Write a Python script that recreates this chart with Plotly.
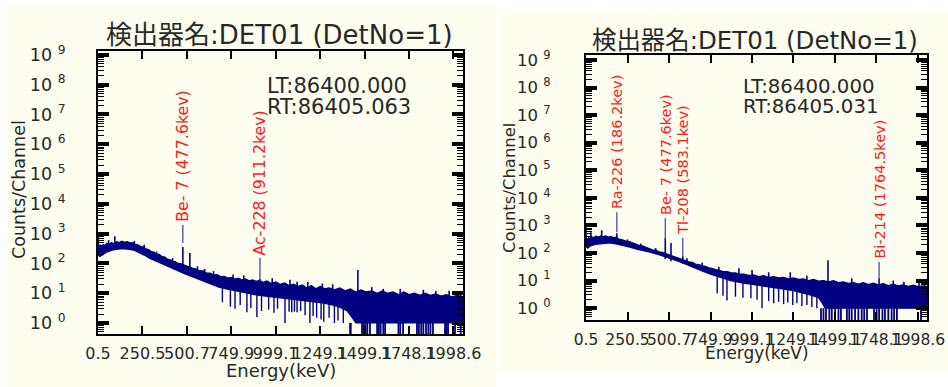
import math
import plotly.graph_objects as go

# ---------------- data ----------------
x_tick_labels = ["0.5", "250.5", "500.7", "749.9", "999.1", "1249.1", "1499.1", "1748.1", "1998.6"]
y_tick_exponents = [0, 1, 2, 3, 4, 5, 6, 7, 8, 9]

# Left spectrum (LT 86400 / RT 86405.063)
left_top_E = [0.5, 5, 12, 20, 30, 40, 50, 60, 75, 90, 105, 120, 135, 150, 165, 180, 195, 210, 225, 240,
              255, 270, 285, 300, 315, 330, 345, 360, 375, 390, 405, 420, 435, 450, 465, 490, 510, 530,
              550, 570, 590, 610, 630, 650, 670, 690, 710, 730, 750, 770, 790, 810, 830, 850, 870, 890,
              910, 930, 950, 975, 1000, 1025, 1050, 1075, 1100, 1125, 1150, 1175, 1200, 1225, 1250,
              1275, 1300, 1330, 1360, 1390, 1420, 1450, 1480, 1510, 1540, 1570, 1600, 1630, 1660, 1690,
              1720, 1750, 1780, 1810, 1840, 1870, 1900, 1930, 1960, 1990, 2020, 2053]
left_top_C = [600, 330, 420, 360, 430, 400, 470, 430, 500, 460, 540, 500, 560, 510, 540, 490, 500, 440,
              420, 370, 360, 310, 290, 250, 240, 205, 200, 170, 165, 140, 135, 118, 115, 100, 98, 85, 78,
              70, 66, 57, 56, 48, 47, 41, 42, 36, 37, 32, 34, 30, 32, 28, 30, 26, 28, 25, 27, 23, 26, 21,
              24, 20, 22, 18, 20, 17, 19, 15, 18, 14, 17, 14, 15, 13, 15, 12, 14, 11, 13, 11, 12, 10, 12,
              10, 11, 9, 11, 9, 10, 8.5, 10, 8.5, 9.5, 8, 9, 7.5, 8.5, 7.5]
left_low_E = [0.5, 10, 25, 40, 60, 80, 110, 140, 170, 200, 230, 260, 290, 320, 350, 380, 410, 440, 470,
              500, 530, 560, 590, 620, 650, 680, 710, 740, 770, 800, 840, 880, 920, 960, 1000, 1050,
              1100, 1150, 1200, 1250, 1300, 1350, 1400, 1430, 1450, 2053]
left_low_C = [200, 170, 190, 224, 250, 280, 300, 310, 300, 280, 230, 190, 150, 125, 100, 85, 72, 60, 50,
              42, 36, 31, 26, 22, 19, 16, 14.5, 13, 12, 11, 10, 9, 8.2, 7.5, 7, 6.5, 6, 5.6, 5.2, 4.8,
              4.3, 3.6, 2.6, 1.5, 1, 1]
left_spike_E = [0.5, 2.5, 60, 95, 140, 205, 260, 330, 420, 477.6, 517, 560, 600, 650, 760, 820, 911.2,
                980, 1080, 1120, 1180, 1262, 1320, 1462, 1540, 1605, 1700, 1830, 1900, 1975, 2040]
left_spike_top = [1000, 850, 600, 820, 560, 560, 420, 250, 150, 355, 224, 80, 65, 55, 42, 40, 30,
                  32, 28, 24, 24, 21, 20, 60, 16, 14, 14, 13, 12, 12, 11]
left_spike_base = [250, 250, 300, 300, 320, 300, 300, 150, 90, 55, 45, 35, 30, 25, 20, 15, 10,
                   12, 10, 7, 8, 6, 6, 2, 5, 1, 5, 1, 4, 1, 4]
left_dip_E = [700, 745, 771, 800, 838, 860, 894, 920, 960, 990, 1010, 1052, 1075, 1090, 1105, 1120,
              1140, 1165, 1192, 1210, 1230, 1255, 1270, 1300, 1330, 1350, 1380]
left_dip_C = [5, 3.5, 3, 4, 2.3, 3.2, 1.6, 2.5, 2.8, 2.2, 3, 1.0, 2.4, 2.3, 2.4, 2.3, 2.5, 1.8, 1.0,
              1.7, 1.5, 1.3, 1.1, 1.5, 1.0, 1.2, 1.0]
left_dip_from = [17, 14, 13, 12, 11, 10, 10, 9, 8, 8, 7.5, 7, 7, 6.5, 6.5, 6.5, 6, 6, 5.5, 5.5, 5, 5,
                 5, 4.8, 4.5, 4.3, 4]
left_zero_E = [1418, 1422, 1485, 1495, 1505, 1515, 1530, 1570, 1580, 1590, 1605, 1615, 1690, 1700, 1716,
               1794, 1805, 1818, 1830, 1845, 1858, 1870, 1884, 1952, 1960, 1969, 2008, 2040]

# Right spectrum (LT 86400 / RT 86405.031)
right_top_E = [0.5, 8, 16, 25, 35, 45, 60, 75, 90, 105, 120, 135, 150, 165, 180, 200, 220, 240, 260,
               280, 300, 320, 340, 360, 380, 400, 420, 440, 460, 480, 500, 520, 540, 560, 580, 600,
               620, 640, 660, 680, 700, 720, 740, 760, 780, 800, 825, 850, 875, 900, 925, 950, 980,
               1010, 1040, 1070, 1100, 1130, 1160, 1190, 1220, 1250, 1280, 1310, 1340, 1370, 1400,
               1430, 1460, 1490, 1520, 1550, 1580, 1610, 1640, 1670, 1700, 1730, 1760, 1790, 1820,
               1850, 1880, 1910, 1940, 1970, 2000, 2030, 2053]
right_top_C = [380, 300, 360, 330, 390, 360, 410, 380, 420, 390, 420, 380, 400, 360, 370, 320, 300, 270,
               260, 230, 215, 190, 180, 160, 150, 130, 125, 110, 105, 95, 88, 80, 74, 66, 60, 55, 48, 46,
               40, 38, 34, 33, 29, 28, 25, 24, 21, 21, 19, 19, 17, 17, 15.5, 16, 14, 15, 13, 14, 12.5,
               13, 11.5, 12.5, 11, 11.5, 10, 11, 9.5, 10, 9, 10, 8.5, 9, 8, 8.5, 7.5, 8.5, 7.2, 8, 7,
               7.8, 6.6, 7.4, 6.4, 7, 6.2, 6.8, 6, 6.4, 5.8]
right_low_E = [0.5, 10, 25, 45, 70, 100, 145, 180, 220, 265, 300, 340, 385, 430, 470, 506, 550, 590, 626,
               670, 710, 750, 790, 830, 870, 910, 950, 1000, 1050, 1100, 1150, 1200, 1250, 1300, 1350,
               1400, 1420, 1440, 2053]
right_low_C = [180, 150, 175, 195, 210, 225, 230, 215, 190, 162, 140, 120, 107, 90, 75, 65, 52, 42, 34,
               27, 21, 17, 14, 12, 10, 9, 8, 7, 6.3, 5.8, 5.3, 4.8, 4.3, 3.6, 3.0, 2.4, 1.6, 1, 1]
right_spike_E = [0.5, 30, 95, 186.2, 250, 330, 420, 477.6, 512, 583.1, 608, 700, 800, 921, 1000, 1100,
                 1230, 1330, 1457, 1600, 1764.5, 1850, 1914, 2005, 2040]
right_spike_top = [1000, 570, 670, 520, 310, 220, 150, 345, 228, 75, 65, 45, 32, 28, 24, 20, 20, 15,
                   55, 12, 12, 10, 9, 10, 9]
right_spike_base = [250, 250, 300, 250, 200, 130, 90, 60, 50, 40, 40, 25, 15, 12, 9, 8, 6, 5, 2, 4,
                    1, 3, 1, 1, 3]
right_dip_E = [790, 825, 849, 900, 945, 993, 1030, 1060, 1100, 1130, 1160, 1190, 1215, 1245, 1270,
               1300, 1330, 1360, 1390]
right_dip_C = [3.5, 2.8, 1.9, 2.6, 2.4, 2.3, 2.0, 1.0, 1.8, 1.5, 1.7, 1.4, 1.6, 1.3, 1.5, 1.2, 1.3, 1.1, 1.0]
right_dip_from = [15, 13, 12, 10, 9, 8, 7.5, 7, 6.5, 6, 6, 5.5, 5, 5, 4.5, 4, 4, 3.5, 3]
right_zero_E = [1415, 1430, 1445, 1465, 1480, 1500, 1520, 1535, 1571, 1585, 1600, 1620, 1640, 1660, 1675,
                1692, 1734, 1750, 1765, 1785, 1800, 1820, 1840, 1855, 1872, 2017]

left_peak_names = ["Be- 7 (477.6kev)", "Ac-228 (911.2kev)"]
left_peak_E = [477.6, 911.2]
left_peak_line = [(480, 1950), (24, 151)]
right_peak_names = ["Ra-226 (186.2kev)", "Be- 7 (477.6kev)", "Tl-208 (583.1kev)", "Bi-214 (1764.5kev)"]
right_peak_E = [186.2, 477.6, 583.1, 1764.5]
right_peak_line = [(562, 3020), (290, 1820), (71, 347), (10.3, 47)]

title_text = "検出器名:DET01 (DetNo=1)"
left_times = ["LT:86400.000", "RT:86405.063"]
right_times = ["LT:86400.000", "RT:86405.031"]

# ---------------- style ----------------
W, H = 948, 387
IVORY = "#FDFDF0"
NAVY = "#000080"
LINEBLUE = "#3A3AB0"
RED = "#FF1A1A"
TXT = "#282828"
FONT = "DejaVu Sans, Noto Sans CJK JP, sans-serif"


def px(x):
    return x / W


def py(y):
    return 1 - y / H


fig = go.Figure()


def add_spectrum(xa, ya, topE, topC, lowE, lowC, spE, spT, spB, dipE, dipC, dipF, zeroE):
    fig.add_trace(go.Scatter(x=topE + lowE[::-1], y=topC + lowC[::-1], mode="lines", fill="toself",
                             fillcolor=NAVY, line=dict(color=NAVY, width=1.2), xaxis=xa, yaxis=ya,
                             hoverinfo="skip", showlegend=False))
    xs, ys = [], []
    for e, t, b in zip(spE, spT, spB):
        xs += [e, e, None]
        ys += [b, t, None]
    fig.add_trace(go.Scatter(x=xs, y=ys, mode="lines", line=dict(color=NAVY, width=1.6),
                             xaxis=xa, yaxis=ya, hoverinfo="skip", showlegend=False))
    xs, ys = [], []
    for e, c, f in zip(dipE, dipC, dipF):
        xs += [e, e, None]
        ys += [c, f, None]
    fig.add_trace(go.Scatter(x=xs, y=ys, mode="lines", line=dict(color=NAVY, width=1.4),
                             xaxis=xa, yaxis=ya, hoverinfo="skip", showlegend=False))
    xs, ys = [], []
    for e in zeroE:
        xs += [e, e, None]
        ys += [1.0, 0.05, None]
    fig.add_trace(go.Scatter(x=xs, y=ys, mode="lines", line=dict(color=NAVY, width=1.8),
                             xaxis=xa, yaxis=ya, hoverinfo="skip", showlegend=False))


add_spectrum("x", "y", left_top_E, left_top_C, left_low_E, left_low_C, left_spike_E, left_spike_top,
             left_spike_base, left_dip_E, left_dip_C, left_dip_from, left_zero_E)
add_spectrum("x2", "y2", right_top_E, right_top_C, right_low_E, right_low_C, right_spike_E,
             right_spike_top, right_spike_base, right_dip_E, right_dip_C, right_dip_from, right_zero_E)

annotations = []


def add_peaks(xa, ya, names, energies, lines, fsize):
    xs, ys = [], []
    for n, e, (lo, hi) in zip(names, energies, lines):
        xs += [e, e, None]
        ys += [lo, hi, None]
        annotations.append(dict(x=e, y=math.log10(hi), xref=xa, yref=ya, text=n, textangle=-90,
                                showarrow=False, xanchor="center", yanchor="bottom", yshift=2,
                                borderpad=0,
                                font=dict(family=FONT, size=fsize, color=RED)))
    fig.add_trace(go.Scatter(x=xs, y=ys, mode="lines", line=dict(color=LINEBLUE, width=1.2),
                             xaxis=xa, yaxis=ya, hoverinfo="skip", showlegend=False))


add_peaks("x", "y", left_peak_names, left_peak_E, left_peak_line, 15.8)
add_peaks("x2", "y2", right_peak_names, right_peak_E, right_peak_line, 14.5)

panels = [
    dict(cx=279, ty=35, lt=(265, 86, 107), yt=(19, 190), ex=(281, 370), times=left_times, s=1.0),
    dict(cx=755, ty=40, lt=(741, 87, 107), yt=(509, 188), ex=(757, 353), times=right_times, s=0.94),
]
for p in panels:
    annotations.append(dict(x=px(p["cx"]), y=py(p["ty"]), xref="paper", yref="paper", text=title_text,
                            showarrow=False, xanchor="center", yanchor="middle",
                            font=dict(family=FONT, size=26 * p["s"], color=TXT)))
    for line_text, ly in zip(p["times"], p["lt"][1:]):
        annotations.append(dict(x=px(p["lt"][0]), y=py(ly), xref="paper", yref="paper",
                                text=line_text, showarrow=False, xanchor="left",
                                yanchor="middle", align="left",
                                font=dict(family=FONT, size=21 * p["s"], color=TXT)))
    annotations.append(dict(x=px(p["yt"][0]), y=py(p["yt"][1]), xref="paper", yref="paper",
                            text="Counts/Channel", textangle=-90, showarrow=False,
                            xanchor="center", yanchor="middle",
                            font=dict(family=FONT, size=17.5 * p["s"], color=TXT)))
    annotations.append(dict(x=px(p["ex"][0]), y=py(p["ex"][1]), xref="paper", yref="paper",
                            text="Energy(keV)", showarrow=False, xanchor="center", yanchor="middle",
                            font=dict(family=FONT, size=18 * p["s"], color=TXT)))

x_tick_vals = [float(s) for s in x_tick_labels]
y_tick_vals = [10 ** k for k in y_tick_exponents]
y_tick_text = ["10 <sup>%d</sup>" % k for k in y_tick_exponents]
minor_vals = [m * 10 ** k for k in range(-1, 10) for m in range(2, 10)]


def xaxis(domain, anchor, fs):
    return dict(domain=domain, anchor=anchor, range=[0.5, 2053], tickmode="array", tickvals=x_tick_vals,
                ticktext=x_tick_labels, tickangle=0, ticks="inside", ticklen=8, tickwidth=2,
                tickcolor="black", showline=True, linecolor="black", linewidth=2, mirror="allticks",
                showgrid=False, zeroline=False, ticklabelstandoff=4, automargin=False,
                tickfont=dict(family=FONT, size=fs, color=TXT))


def yaxis(domain, anchor, rng, fs, standoff):
    return dict(domain=domain, anchor=anchor, type="log", range=rng, tickmode="array",
                tickvals=y_tick_vals, ticktext=y_tick_text, ticks="inside", ticklen=11, tickwidth=4,
                tickcolor="black", showline=True, linecolor="black", linewidth=2, mirror="allticks",
                showgrid=False, zeroline=False, ticklabelstandoff=standoff, automargin=False,
                minor=dict(tickmode="array", tickvals=minor_vals, ticks="inside", ticklen=6,
                           tickwidth=1, tickcolor="black", showgrid=False),
                tickfont=dict(family=FONT, size=fs, color=TXT))


fig.update_layout(
    width=W, height=H, autosize=False,
    margin=dict(l=0, r=0, t=0, b=0, pad=0),
    paper_bgcolor="white", plot_bgcolor=IVORY,
    showlegend=False,
    xaxis=xaxis([px(98), px(463)], "y", 16),
    yaxis=yaxis([py(334), py(51)], "x", [-0.37, 9.13], 17.5, 27),
    xaxis2=xaxis([px(586), px(927)], "y2", 15.5),
    yaxis2=yaxis([py(320), py(55)], "x2", [-0.43, 9.18], 16.5, 30),
    annotations=annotations,
    shapes=[
        dict(type="rect", xref="paper", yref="paper", x0=px(7), x1=px(496), y0=py(387), y1=py(4),
             fillcolor=IVORY, line=dict(width=0), layer="below"),
        dict(type="rect", xref="paper", yref="paper", x0=px(498), x1=px(948), y0=py(372), y1=py(10),
             fillcolor=IVORY, line=dict(width=0), layer="below"),
    ],
)

fig.write_html("out.html", config={"displayModeBar": False},
               post_script="document.body.style.margin='0';document.body.style.overflow='hidden';")
